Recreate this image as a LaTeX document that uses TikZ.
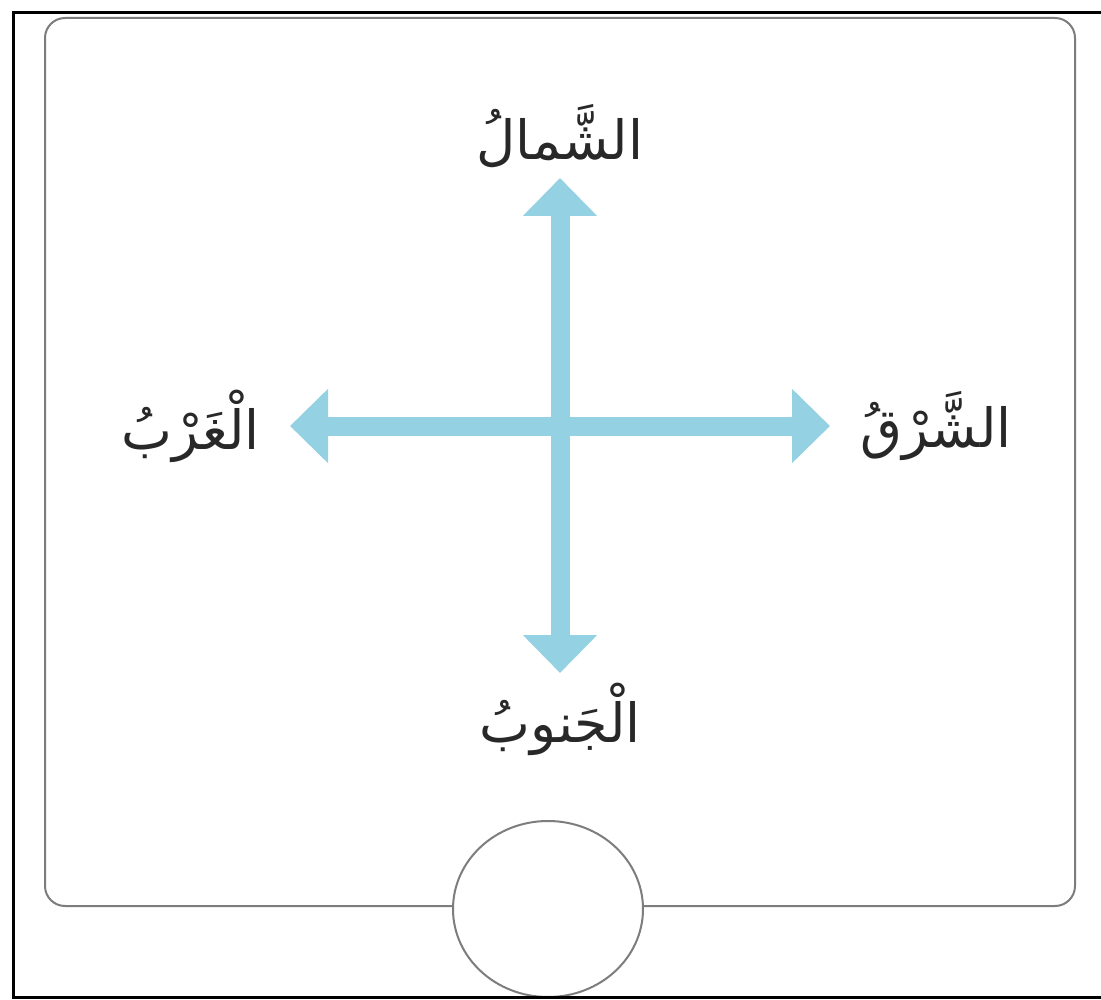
\documentclass[tikz,border=0pt]{standalone}
\usepackage{fontspec}
\newfontfamily\arabicfont[Script=Arabic]{DejaVu Sans}
\TeXXeTstate=1
\usetikzlibrary{positioning, arrows.meta, shapes.geometric}
\definecolor{compassblue}{RGB}{148,210,227}
\definecolor{labelgray}{RGB}{40,40,40}
\definecolor{panelgray}{RGB}{125,125,125}

\begin{document}
\begin{tikzpicture}[
    x=1pt, y=-1pt, % pixel-like units, y pointing down
    compass/.style={compassblue, line width=19pt,
        {Triangle[width=72pt,length=38pt]}-{Triangle[width=72pt,length=38pt]}},
    dirlabel/.style={font=\arabicfont\fontsize{54}{62}\selectfont, text=labelgray, inner sep=0pt},
    node distance=10pt and 30pt
]

% page and frames
\useasboundingbox (0,0) rectangle (1101,1000);
\fill[white] (0,0) rectangle (1101,1000);
\draw[panelgray, line width=2pt, rounded corners=20pt] (45,18) rectangle (1075,906);
\node[ellipse, draw=panelgray, fill=white, line width=2pt, minimum width=190pt, minimum height=176pt, inner sep=0pt] (dial) at (548,909) {};
\draw[black, line width=3pt] (1110,13) -- (13,13) -- (13,997) -- (1110,997);

% arrow tips
\coordinate (n) at (560,178);
\coordinate (s) at (560,673);
\coordinate (w) at (290,426);
\coordinate (e) at (830,426);

% arrows
\draw[compass] (s) -- (n);
\draw[compass] (w) -- (e);

% labels
\node[dirlabel, above=of n] (north) {\beginR الشَّمالُ\endR};
\node[dirlabel, below=of s] (south) {\beginR الْجَنوبُ\endR};
\node[dirlabel, left=of w] (west) {\beginR الْغَرْبُ\endR};
\node[dirlabel, right=of e] (east) {\beginR الشَّرْقُ\endR};

\end{tikzpicture}
\end{document}
